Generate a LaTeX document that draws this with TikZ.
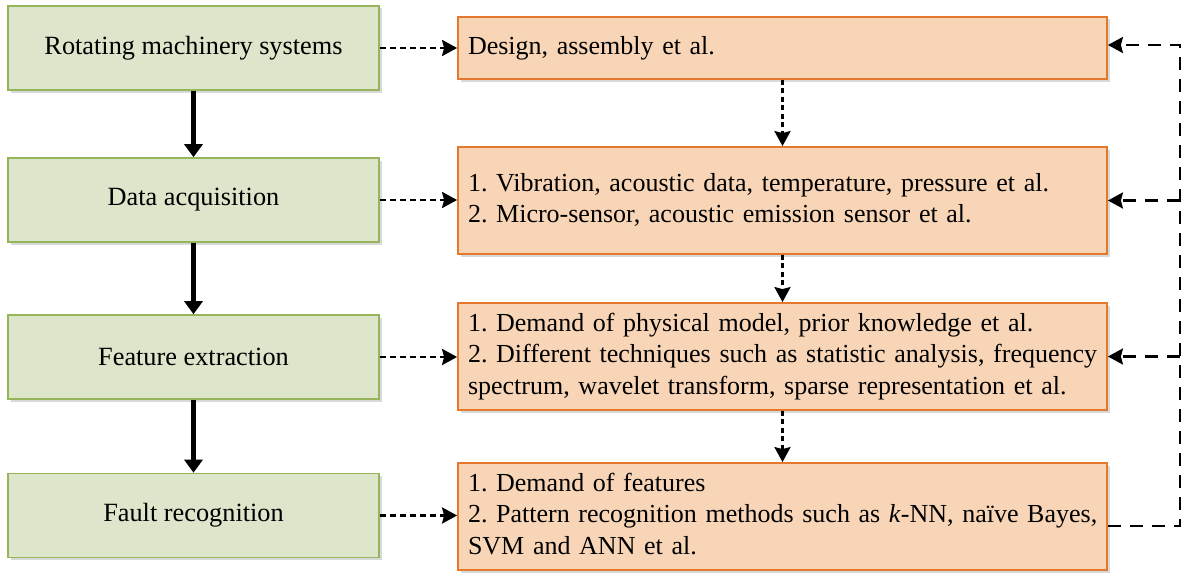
\documentclass[tikz,border=0pt]{standalone}
\usepackage{fontspec}
\setmainfont{Liberation Serif}
\usetikzlibrary{arrows.meta,shadows}
\definecolor{gfill}{RGB}{221,229,203}
\definecolor{gline}{RGB}{150,180,90}
\definecolor{ofill}{RGB}{248,213,182}
\definecolor{oline}{RGB}{228,120,45}
\frenchspacing
\begin{document}
\begin{tikzpicture}[x=1pt,y=-1pt,
  boxshadow/.style={drop shadow={shadow xshift=2.5pt,shadow yshift=-2.5pt,opacity=0.25,fill=black!60}},
  gbox/.style={draw=gline,fill=gfill,line width=1.6pt,minimum width=371pt,minimum height=84pt,inner sep=0pt,
    font=\fontsize{26.3}{31}\selectfont,boxshadow},
  obox/.style={draw=oline,fill=ofill,line width=1.8pt,minimum width=649pt,inner xsep=10pt,inner ysep=0pt,
    text width=629pt,align=left,font=\fontsize{26}{31.5}\selectfont,boxshadow},
  tip/.style={-{Stealth[width=16pt,length=15pt,inset=2pt]}},
  bigarrow/.style={line width=4.5pt,-{Triangle[width=18pt,length=13pt]}},
  linkarrow/.style={line width=2.8pt,dash pattern=on 6pt off 4pt,tip},
  downarrow/.style={line width=2.8pt,dash pattern=on 5pt off 3.5pt,tip},
  backline/.style={line width=2.4pt,dash pattern=on 13pt off 9pt},
  backarrow/.style={backline,tip},
]
\useasboundingbox (0,0) rectangle (1191,586);

\newcommand{\lines}[1]{\begin{tabular}{@{}l@{}}#1\end{tabular}}

\node[gbox] (g1) at (193.5,48) {Rotating machinery systems};
\node[gbox] (g2) at (193.5,200) {Data acquisition};
\node[gbox] (g3) at (193.5,357) {Feature extraction};
\node[gbox] (g4) at (193.5,515.5) {Fault recognition};

\node[obox,minimum height=62pt] (o1) at (782.5,48) {\lines{Design, assembly et al.}};
\node[obox,minimum height=107pt] (o2) at (782.5,200.5) {\lines{1. Vibration, acoustic data, temperature, pressure et al.\\2. Micro-sensor, acoustic emission sensor et al.}};
\node[obox,minimum height=107pt] (o3) at (782.5,356.5) {\lines{1. Demand of physical model, prior knowledge et al.\\2. Different techniques such as statistic analysis, frequency\\spectrum, wavelet transform, sparse representation et al.}};
\node[obox,minimum height=107pt] (o4) at (782.5,516.5) {\lines{1. Demand of features\\2. Pattern recognition methods such as \textit{k}-NN, naïve Bayes,\\SVM and ANN et al.}};

\draw[bigarrow] (g1.south) -- (g2.north);
\draw[bigarrow] (g2.south) -- (g3.north);
\draw[bigarrow] (g3.south) -- (g4.north);

\draw[linkarrow] (g1.east) -- (g1.east -| o1.west);
\draw[linkarrow] (g2.east) -- (g2.east -| o2.west);
\draw[linkarrow] (g3.east) -- (g3.east -| o3.west);
\draw[linkarrow] (g4.east) -- (g4.east -| o4.west);

\draw[downarrow] (o1.south) -- (o2.north);
\draw[downarrow] (o2.south) -- (o3.north);
\draw[downarrow] (o3.south) -- (o4.north);

\coordinate (bot) at (1180,526);
\coordinate (top) at (1180,45);
\draw[backarrow] (o4.east |- bot) -- (bot) -- (top) -- (o1.east |- top);
\draw[backarrow] (top |- o2.east) -- (o2.east);
\draw[backarrow] (top |- o3.east) -- (o3.east);
\end{tikzpicture}
\end{document}
